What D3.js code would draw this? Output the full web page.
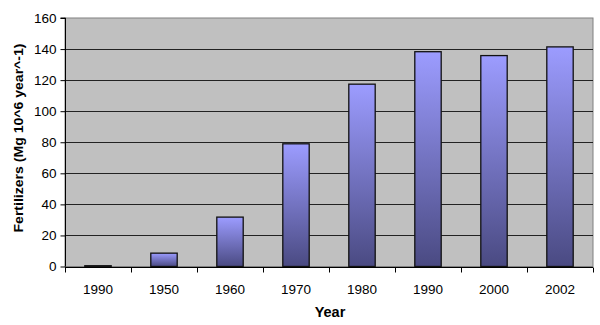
<!DOCTYPE html>
<html><head><meta charset="utf-8">
<script src="https://cdn.jsdelivr.net/npm/d3@7"></script>
<style>body{margin:0;background:#fff}svg{display:block}</style>
</head><body>
<svg id="c" width="600" height="325"></svg>
<script>
const categories = ["1990","1950","1960","1970","1980","1990 ","2000","2002"];
const values = [0.5, 8.6, 31.8, 79, 117.4, 138.3, 135.8, 141.4];
const yTicks = [0,20,40,60,80,100,120,140,160];

const svg = d3.select("#c");
const m = {l:65, r:7, t:18, b:58.5};
const W = 600, H = 325;
const FONT = "Liberation Sans, Arial, sans-serif";
const x = d3.scaleBand().domain(categories).range([m.l, W-m.r]).paddingInner(0.6).paddingOuter(0.3);
const xb = d3.scaleBand().domain(categories).range([m.l, W-m.r]);
const y = d3.scaleLinear().domain([0,160]).range([H-m.b, m.t]);

const defs = svg.append("defs");
const g = defs.append("linearGradient").attr("id","bg").attr("x1",0).attr("y1",0).attr("x2",0).attr("y2",1);
g.append("stop").attr("offset","0%").attr("stop-color","#9c9cff");
g.append("stop").attr("offset","100%").attr("stop-color","#4a4a82");

svg.append("rect").attr("x",m.l).attr("y",m.t).attr("width",W-m.r-m.l).attr("height",H-m.b-m.t)
  .attr("fill","#c0c0c0").attr("stroke","#808080").attr("stroke-width",1);

svg.append("g").selectAll("line").data(yTicks.slice(1,-1)).join("line")
  .attr("x1",m.l).attr("x2",W-m.r).attr("y1",d=>Math.round(y(d))+0.5).attr("y2",d=>Math.round(y(d))+0.5)
  .attr("stroke","#222").attr("stroke-width",1);

svg.append("g").selectAll("rect").data(values).join("rect")
  .attr("x",(d,i)=>x(categories[i])).attr("width",x.bandwidth())
  .attr("y",d=>y(d)).attr("height",d=>y(0)-y(d))
  .attr("fill","url(#bg)").attr("stroke","#111").attr("stroke-width",1.3);

const ya = svg.append("g").attr("transform",`translate(${m.l+0.5},0)`)
  .call(d3.axisLeft(y).tickValues(yTicks).tickSize(5).tickPadding(4));
ya.select(".domain").attr("stroke","#000").attr("d",`M-5,${y(160)}H0V${y(0)}`);
ya.selectAll("text").attr("font-family",FONT).attr("font-size",13.5).attr("fill","#000");

const xa = svg.append("g").attr("transform",`translate(0,${Math.round(y(0))+0.5})`);
xa.append("line").attr("x1",m.l).attr("x2",W-m.r).attr("stroke","#000");
xa.selectAll(".tk").data(categories.concat(["end"])).join("line")
  .attr("x1",(d,i)=>Math.round(m.l+i*xb.bandwidth())+0.5).attr("x2",(d,i)=>Math.round(m.l+i*xb.bandwidth())+0.5)
  .attr("y1",0).attr("y2",5).attr("stroke","#000");
xa.selectAll("text").data(categories).join("text")
  .attr("x",d=>xb(d)+xb.bandwidth()/2).attr("y",26).attr("text-anchor","middle")
  .attr("font-family",FONT).attr("font-size",13.5).text(d=>d.trim());

svg.append("text").attr("x",330).attr("y",317).attr("text-anchor","middle")
  .attr("font-family",FONT).attr("font-size",14.5).attr("font-weight","bold").text("Year");
svg.append("text").attr("transform",`translate(23,138) rotate(-90)`).attr("text-anchor","middle")
  .attr("font-family",FONT).attr("font-size",13.5).attr("font-weight","bold")
  .attr("textLength",189).attr("lengthAdjust","spacingAndGlyphs")
  .text("Fertilizers (Mg 10^6 year^-1)");
</script>
</body></html>
